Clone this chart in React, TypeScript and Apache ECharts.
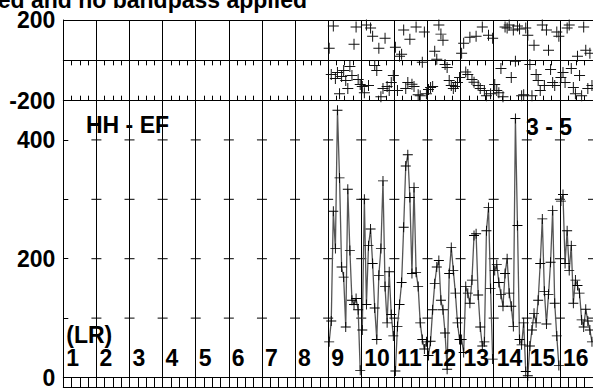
import React, { useEffect, useRef } from 'react';
import * as echarts from 'echarts';

// ---- data ----
const IF_LABELS = ['1', '2', '3', '4', '5', '6', '7', '8', '9', '10', '11', '12', '13', '14', '15', '16'];
const CHANNELS = 16;
const DATA_IFS = [9, 10, 11, 12, 13, 14, 15, 16];

const AMP_IF9 = [60, 95, 280, 217, 450, 336, 186, 169, 85, 317, 214, 130, 123, 133, 114, 12];
const AMP_IF10 = [80, 300, 123, 222, 250, 192, 117, 64, 172, 217, 331, 153, 92, 178, 106, 70];
const AMP_IF11 = [11, 86, 123, 160, 253, 356, 375, 303, 175, 320, 177, 153, 92, 64, 48, 60];
const AMP_IF12 = [37, 61, 114, 158, 186, 197, 130, 114, 75, 14, 175, 219, 180, 142, 92, 64];
const AMP_IF13 = [64, 42, 153, 142, 125, 164, 239, 242, 139, 85, 53, 60, 247, 286, 150, 31];
const AMP_IF14 = [180, 190, 160, 140, 120, 175, 200, 142, 120, 86, 436, 256, 64, 55, 92, 10];
const AMP_IF15 = [3, 53, 80, 108, 92, 130, 192, 267, 145, 90, 140, 194, 281, 125, 70, 20];
const AMP_IF16 = [297, 308, 192, 247, 180, 222, 125, 164, 155, 142, 97, 85, 115, 95, 80, 60];

const PHASE_IF9 = [60, -70, 170, -90, -60, -165, -80, -50, -100, -140, -30, -75, 80, 165, -95, -120];
const PHASE_IF10 = [-130, -160, 175, -125, 160, 120, -25, -50, 60, -180, -140, 110, -130, -150, -110, -75];
const PHASE_IF11 = [65, -150, 20, 30, 150, -140, -110, 105, -118, -130, 165, -170, -175, -10, 140, -165];
const PHASE_IF12 = [-145, -135, -130, 45, 5, 175, 130, 100, -20, -35, -100, -125, -140, -130, -110, -85];
const PHASE_IF13 = [35, 85, -58, -70, 115, -95, -108, 120, -125, -140, 165, -150, -175, 125, -165, 110];
const PHASE_IF14 = [-120, -150, -160, -40, -180, 165, 160, 175, -85, 150, -5, 170, 155, -175, -170, 160];
const PHASE_IF15 = [125, -20, -175, 75, -70, -100, -150, 175, -125, 150, 50, -45, -110, -125, 140, 120];
const PHASE_IF16 = [-85, -60, -110, 160, 175, -40, -135, -165, 20, -75, -175, 165, 50, -140, 35, -125];

const AMP_BY_IF = [AMP_IF9, AMP_IF10, AMP_IF11, AMP_IF12, AMP_IF13, AMP_IF14, AMP_IF15, AMP_IF16];
const PHASE_BY_IF = [PHASE_IF9, PHASE_IF10, PHASE_IF11, PHASE_IF12, PHASE_IF13, PHASE_IF14, PHASE_IF15, PHASE_IF16];

const PHASE_MIN = -200;
const PHASE_MAX = 200;
const AMP_MIN = -16;
const AMP_MAX = 466;
const AMP_LABEL_VALUES = [0, 200, 400];
const AMP_TICK_VALUES = [0, 100, 200, 300, 400];
const IF_LABEL_LEVEL = 33;
const POL_LABEL_LEVEL = 72;
const POL_LABEL = '(LR)';
const BASELINE_LABEL = 'HH - EF';
const STOKES_LABEL = '3 - 5';
const TITLE = 'calibrated and no bandpass applied';

const PLUS = 'path://M0,4.55H10V5.45H0Z M4.55,0H5.45V10H4.55Z';
const FONT = 'Liberation Sans, Arial, Helvetica, sans-serif';

export default function App() {
  const ref = useRef<HTMLDivElement>(null);

  useEffect(() => {
    if (!ref.current) return;
    const chart = echarts.init(ref.current, undefined, { renderer: 'svg' });

    const chanX = (ifNum: number, c: number) => ifNum - 1 + (c + 0.5) / CHANNELS;

    const phaseData: number[][] = [];
    DATA_IFS.forEach((ifNum, i) => {
      PHASE_BY_IF[i].forEach((v, c) => phaseData.push([chanX(ifNum, c), v]));
    });

    const ampSeries = DATA_IFS.map((ifNum, i) => ({
      type: 'line',
      xAxisIndex: 2,
      yAxisIndex: 1,
      data: AMP_BY_IF[i].map((v, c) => [chanX(ifNum, c), v]),
      showSymbol: true,
      symbol: PLUS,
      symbolSize: 10,
      itemStyle: { color: '#000', opacity: 1 },
      lineStyle: { color: '#555', width: 1.3 },
      silent: true,
      z: 3,
    }));

    const boundaryTicks: number[][] = [];
    for (let k = 1; k <= IF_LABELS.length; k++) {
      AMP_TICK_VALUES.forEach((v) => boundaryTicks.push([k, v]));
    }

    const ifLabelData = IF_LABELS.map((name, k) => ({ value: [k, IF_LABEL_LEVEL], name }));

    const textStyle = { color: '#000', fontFamily: FONT, fontWeight: 'bold' as const, fontSize: 23, lineHeight: 18 };

    const xAxisBase = {
      type: 'value',
      min: 0,
      max: IF_LABELS.length,
      interval: 1,
      axisLine: { show: true, lineStyle: { color: '#000', width: 1 } },
      axisTick: { show: true, inside: true, length: 5, lineStyle: { color: '#000' } },
      minorTick: { show: true, splitNumber: 4, length: 5, lineStyle: { color: '#000' } },
      axisLabel: { show: false },
      splitLine: { show: false },
    };

    chart.setOption({
      animation: false,
      grid: [
        { left: 63.3, top: 20, width: 533.4, height: 80.7 },
        { left: 63.3, top: 100.7, width: 533.4, height: 289.2 },
      ],
      xAxis: [
        { ...xAxisBase, gridIndex: 0, position: 'top', splitLine: { show: true, lineStyle: { color: '#000', width: 1 } } },
        { ...xAxisBase, gridIndex: 0, position: 'bottom' },
        { ...xAxisBase, gridIndex: 1, position: 'top', splitLine: { show: true, lineStyle: { color: '#000', width: 1 } } },
        { ...xAxisBase, gridIndex: 1, position: 'bottom' },
      ],
      yAxis: [
        {
          type: 'value',
          gridIndex: 0,
          min: PHASE_MIN,
          max: PHASE_MAX,
          interval: 200,
          axisLine: { show: true, lineStyle: { color: '#000' } },
          axisTick: { show: false },
          axisLabel: {
            ...textStyle,
            margin: 8,
            formatter: (v: number) => (v === 0 ? '' : String(v)),
          },
          splitLine: { show: true, lineStyle: { color: '#000', width: 1 } },
        },
        {
          type: 'value',
          gridIndex: 1,
          min: AMP_MIN,
          max: AMP_MAX,
          axisLine: { show: true, lineStyle: { color: '#000' } },
          axisTick: { show: true, inside: true, length: 5, customValues: AMP_TICK_VALUES, lineStyle: { color: '#000' } },
          axisLabel: { ...textStyle, margin: 8, customValues: AMP_LABEL_VALUES },
          splitLine: { show: false },
        },
      ],
      graphic: [
        {
          type: 'text',
          x: 307,
          y: 0,
          style: { text: TITLE, ...textStyle, fill: '#000', textAlign: 'right', verticalAlign: 'middle' },
        },
        {
          type: 'text',
          x: 86,
          y: 125,
          style: { text: BASELINE_LABEL, ...textStyle, fill: '#000', textAlign: 'left', verticalAlign: 'middle' },
        },
        {
          type: 'text',
          x: 526,
          y: 127,
          style: { text: STOKES_LABEL, ...textStyle, fill: '#000', textAlign: 'left', verticalAlign: 'middle' },
        },
      ],
      series: [
        {
          type: 'scatter',
          xAxisIndex: 0,
          yAxisIndex: 0,
          data: phaseData,
          symbol: PLUS,
          symbolSize: 11,
          itemStyle: { color: '#111', opacity: 1 },
          silent: true,
        },
        ...ampSeries,
        {
          type: 'scatter',
          xAxisIndex: 2,
          yAxisIndex: 1,
          data: boundaryTicks,
          symbol: 'rect',
          symbolSize: [10, 1],
          itemStyle: { color: '#000', opacity: 1 },
          silent: true,
          z: 1,
        },
        {
          type: 'scatter',
          xAxisIndex: 2,
          yAxisIndex: 1,
          data: ifLabelData,
          symbolSize: 0,
          itemStyle: { opacity: 1 },
          silent: true,
          z: 5,
          label: {
            show: true,
            position: 'right',
            distance: 3,
            formatter: (p: any) => p.name,
            ...textStyle,
          },
        },
        {
          type: 'scatter',
          xAxisIndex: 2,
          yAxisIndex: 1,
          data: [{ value: [0, POL_LABEL_LEVEL], name: POL_LABEL }],
          symbolSize: 0,
          itemStyle: { opacity: 1 },
          silent: true,
          z: 5,
          label: {
            show: true,
            position: 'right',
            distance: 3,
            formatter: (p: any) => p.name,
            ...textStyle,
          },
        },
      ],
    });

    return () => chart.dispose();
  }, []);

  return (
    <div
      ref={ref}
      style={{ position: 'fixed', left: 0, top: 0, width: 593, height: 389, background: '#fff' }}
    />
  );
}
